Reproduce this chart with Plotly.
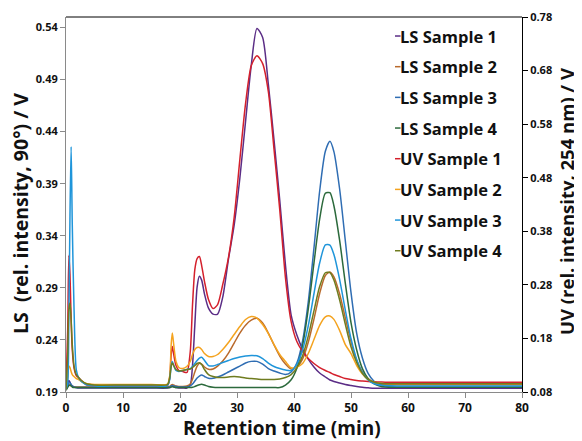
import plotly.graph_objects as go

# Retention time grid (min)
time_min = [0, 0.3, 0.5, 0.7, 0.9, 1.1, 1.4, 1.8, 2.2, 2.7,
            3.5, 5, 10, 15, 17.8, 18.2, 18.45, 18.65, 18.9, 19.3,
            19.8, 20.5, 21.2, 21.8, 22.2, 22.6, 23.0, 23.4, 23.8, 24.3,
            25.0, 25.8, 26.6, 27.5, 28.5, 29.5, 30.5, 31.5, 32.5, 33.5,
            34.5, 35.5, 36.5, 37.5, 38.5, 39.5, 40.5, 41.5, 42.5, 43.5,
            44.5, 45.5, 46.3, 47, 48, 49, 50, 51, 52, 53,
            54, 55, 56, 58, 60, 65, 70, 75, 80]

# LS signals (left axis, V)
ls_sample1 = [0.1919, 0.1977, 0.2010, 0.1996, 0.1967, 0.1958, 0.1948, 0.1943, 0.1938, 0.1938,
              0.1938, 0.1938, 0.1938, 0.1938, 0.1938, 0.1943, 0.1953, 0.1955, 0.1951, 0.1943,
              0.1938, 0.1938, 0.1938, 0.1967, 0.2159, 0.2542, 0.2907, 0.3012, 0.2974, 0.2840,
              0.2705, 0.2648, 0.2648, 0.2811, 0.3175, 0.3501, 0.3952, 0.4498, 0.5035, 0.5390,
              0.5304, 0.4853, 0.4316, 0.3741, 0.3118, 0.2638, 0.2447, 0.2312, 0.2216, 0.2140,
              0.2082, 0.2044, 0.2015, 0.2001, 0.1986, 0.1972, 0.1962, 0.1953, 0.1945, 0.1940,
              0.1935, 0.1935, 0.1935, 0.1935, 0.1935, 0.1935, 0.1935, 0.1935, 0.1935]
ls_sample2 = [0.1919, 0.1948, 0.1967, 0.1967, 0.1958, 0.1953, 0.1948, 0.1948, 0.1948, 0.1948,
              0.1948, 0.1948, 0.1948, 0.1948, 0.1948, 0.1953, 0.1967, 0.1972, 0.1967, 0.1958,
              0.1953, 0.1953, 0.1958, 0.1977, 0.2025, 0.2092, 0.2149, 0.2175, 0.2168, 0.2140,
              0.2118, 0.2121, 0.2149, 0.2197, 0.2274, 0.2370, 0.2466, 0.2542, 0.2590, 0.2607,
              0.2562, 0.2466, 0.2351, 0.2245, 0.2168, 0.2121, 0.2140, 0.2216, 0.2377, 0.2600,
              0.2846, 0.3018, 0.3051, 0.3005, 0.2842, 0.2612, 0.2384, 0.2203, 0.2094, 0.2028,
              0.1991, 0.1977, 0.1972, 0.1970, 0.1970, 0.1970, 0.1970, 0.1970, 0.1970]
ls_sample3 = [0.1919, 0.1958, 0.1986, 0.1989, 0.1972, 0.1958, 0.1948, 0.1943, 0.1943, 0.1943,
              0.1943, 0.1943, 0.1943, 0.1943, 0.1943, 0.1948, 0.1958, 0.1962, 0.1958, 0.1953,
              0.1948, 0.1948, 0.1948, 0.1958, 0.1977, 0.2005, 0.2034, 0.2053, 0.2063, 0.2049,
              0.2031, 0.2031, 0.2044, 0.2063, 0.2092, 0.2121, 0.2149, 0.2178, 0.2194, 0.2194,
              0.2168, 0.2125, 0.2101, 0.2082, 0.2068, 0.2092, 0.2178, 0.2389, 0.2763, 0.3281,
              0.3827, 0.4211, 0.4307, 0.4208, 0.3851, 0.3354, 0.2856, 0.2462, 0.2226, 0.2078,
              0.2005, 0.1972, 0.1958, 0.1948, 0.1948, 0.1948, 0.1948, 0.1948, 0.1948]
ls_sample4 = [0.1919, 0.1948, 0.1962, 0.1967, 0.1958, 0.1948, 0.1943, 0.1943, 0.1943, 0.1943,
              0.1943, 0.1943, 0.1943, 0.1943, 0.1943, 0.1943, 0.1948, 0.1950, 0.1948, 0.1943,
              0.1943, 0.1943, 0.1943, 0.1943, 0.1945, 0.1953, 0.1962, 0.1970, 0.1974, 0.1967,
              0.1953, 0.1946, 0.1943, 0.1943, 0.1943, 0.1943, 0.1943, 0.1943, 0.1943, 0.1943,
              0.1943, 0.1943, 0.1943, 0.1943, 0.1967, 0.2017, 0.2128, 0.2346, 0.2696, 0.3137,
              0.3559, 0.3808, 0.3813, 0.3688, 0.3357, 0.2945, 0.2566, 0.2303, 0.2124, 0.2028,
              0.1980, 0.1958, 0.1948, 0.1945, 0.1945, 0.1945, 0.1945, 0.1945, 0.1945]

# UV signals (right axis, V)
uv_sample1 = [0.0847, 0.1966, 0.3347, 0.2992, 0.2153, 0.1593, 0.1257, 0.1108, 0.1071, 0.1015,
              0.0940, 0.0912, 0.0912, 0.0912, 0.0921, 0.1071, 0.1500, 0.1649, 0.1500, 0.1294,
              0.1201, 0.1182, 0.1164, 0.1556, 0.2432, 0.3085, 0.3291, 0.3328, 0.3160, 0.2862,
              0.2526, 0.2358, 0.2432, 0.2806, 0.3309, 0.4056, 0.5138, 0.6183, 0.6892, 0.7078,
              0.6929, 0.6406, 0.5324, 0.4205, 0.2936, 0.2115, 0.1742, 0.1556, 0.1425, 0.1332,
              0.1257, 0.1201, 0.1164, 0.1126, 0.1089, 0.1052, 0.1033, 0.1015, 0.1005, 0.0996,
              0.0990, 0.0987, 0.0983, 0.0983, 0.0983, 0.0983, 0.0983, 0.0983, 0.0983]
uv_sample2 = [0.0847, 0.1071, 0.1285, 0.1257, 0.1182, 0.1126, 0.1089, 0.1052, 0.1033, 0.0996,
              0.0959, 0.0940, 0.0940, 0.0940, 0.0949, 0.1108, 0.1686, 0.1901, 0.1686, 0.1369,
              0.1257, 0.1238, 0.1276, 0.1369, 0.1500, 0.1593, 0.1630, 0.1630, 0.1593, 0.1518,
              0.1462, 0.1462, 0.1500, 0.1593, 0.1724, 0.1873, 0.2022, 0.2153, 0.2209, 0.2181,
              0.2059, 0.1891, 0.1686, 0.1500, 0.1369, 0.1252, 0.1263, 0.1332, 0.1518, 0.1779,
              0.2044, 0.2203, 0.2218, 0.2156, 0.1951, 0.1686, 0.1518, 0.1294, 0.1136, 0.1033,
              0.0987, 0.0964, 0.0955, 0.0953, 0.0953, 0.0953, 0.0953, 0.0953, 0.0953]
uv_sample3 = [0.0847, 0.0977, 0.2153, 0.4112, 0.5380, 0.3925, 0.2395, 0.1220, 0.1071, 0.0996,
              0.0940, 0.0912, 0.0912, 0.0912, 0.0921, 0.1033, 0.1294, 0.1369, 0.1294, 0.1201,
              0.1182, 0.1201, 0.1220, 0.1238, 0.1276, 0.1332, 0.1388, 0.1434, 0.1449, 0.1388,
              0.1294, 0.1285, 0.1313, 0.1350, 0.1388, 0.1425, 0.1453, 0.1472, 0.1481, 0.1475,
              0.1425, 0.1341, 0.1276, 0.1238, 0.1210, 0.1201, 0.1317, 0.1584, 0.2035, 0.2634,
              0.3207, 0.3546, 0.3543, 0.3365, 0.2903, 0.2330, 0.1798, 0.1406, 0.1164, 0.1026,
              0.0959, 0.0931, 0.0921, 0.0912, 0.0912, 0.0912, 0.0912, 0.0912, 0.0912]
uv_sample4 = [0.0847, 0.1500, 0.2339, 0.2460, 0.2153, 0.1686, 0.1294, 0.1126, 0.1071, 0.1015,
              0.0959, 0.0931, 0.0931, 0.0931, 0.0940, 0.1071, 0.1276, 0.1341, 0.1294, 0.1220,
              0.1192, 0.1201, 0.1220, 0.1229, 0.1257, 0.1294, 0.1332, 0.1345, 0.1313, 0.1220,
              0.1126, 0.1089, 0.1071, 0.1071, 0.1080, 0.1089, 0.1080, 0.1061, 0.1052, 0.1043,
              0.1033, 0.1033, 0.1033, 0.1043, 0.1071, 0.1126, 0.1250, 0.1474, 0.1843, 0.2315,
              0.2768, 0.3026, 0.3030, 0.2891, 0.2522, 0.2067, 0.1643, 0.1350, 0.1151, 0.1037,
              0.0987, 0.0962, 0.0953, 0.0953, 0.0953, 0.0953, 0.0953, 0.0953, 0.0953]

series_names = ["LS Sample 1", "LS Sample 2", "LS Sample 3", "LS Sample 4",
                "UV Sample 1", "UV Sample 2", "UV Sample 3", "UV Sample 4"]
series_values = [ls_sample1, ls_sample2, ls_sample3, ls_sample4,
                 uv_sample1, uv_sample2, uv_sample3, uv_sample4]
series_axis = ["y", "y", "y", "y", "y2", "y2", "y2", "y2"]
series_colors = ["#5b2d86", "#b96a2c", "#2f6db3", "#2c6a3c",
                 "#d4202c", "#f4a31f", "#1f95da", "#6f7c1f"]

ls_ticks = [0.19, 0.24, 0.29, 0.34, 0.39, 0.44, 0.49, 0.54]
uv_ticks = [0.08, 0.18, 0.28, 0.38, 0.48, 0.58, 0.68, 0.78]
x_ticks = [0, 10, 20, 30, 40, 50, 60, 70, 80]

FONT = "Open Sans"

fig = go.Figure()
for name, vals, ax, col in zip(series_names, series_values, series_axis, series_colors):
    fig.add_trace(go.Scatter(
        x=time_min, y=vals, name=name, yaxis=ax, mode="lines",
        line=dict(color=col, width=1.5, shape="spline", smoothing=0.7),
        showlegend=False))

# custom legend (short line + bold label), top right inside plot
leg_x_line0, leg_x_line1, leg_x_text = 0.7215, 0.7336, 0.7270
leg_y0, leg_dy = 0.9493, 0.0818
annotations = []
shapes = []
for i, (name, col) in enumerate(zip(series_names, series_colors)):
    yy = leg_y0 - i * leg_dy
    shapes.append(dict(type="line", xref="paper", yref="paper",
                       x0=leg_x_line0, x1=leg_x_line1, y0=yy, y1=yy,
                       line=dict(color=col, width=1.5)))
    annotations.append(dict(text="<b>" + name + "</b>", xref="paper", yref="paper",
                            x=leg_x_text, y=yy, xanchor="left", yanchor="middle",
                            showarrow=False, font=dict(family=FONT, size=16.5, color="#111")))

# axis titles
annotations.append(dict(text="<b>LS&nbsp; (rel. intensity, 90°) / V</b>", xref="paper", yref="paper",
                        x=-0.1009, y=0.4773, textangle=-90, showarrow=False,
                        xanchor="center", yanchor="middle",
                        font=dict(family=FONT, size=19.5, color="#111")))
annotations.append(dict(text="<b>UV (rel. intensity, 254 nm) / V</b>", xref="paper", yref="paper",
                        x=1.0965, y=0.5093, textangle=-90, showarrow=False,
                        xanchor="center", yanchor="middle",
                        font=dict(family=FONT, size=18.5, color="#111")))
annotations.append(dict(text="<b>Retention time (min)</b>", xref="paper", yref="paper",
                        x=0.4726, y=-0.0947, showarrow=False, borderpad=0,
                        xanchor="center", yanchor="middle",
                        font=dict(family=FONT, size=19, color="#111")))

# top frame line
shapes.append(dict(type="line", xref="paper", yref="paper", x0=0, x1=1, y0=1, y1=1,
                   line=dict(color="#000", width=1)))

# the page body adds an 8 px offset, so the figure is 8 px smaller on each axis
fig.update_layout(
    width=574, height=433,
    margin=dict(l=58, r=60, t=9, b=49, autoexpand=False),
    paper_bgcolor="white", plot_bgcolor="white",
    font=dict(family=FONT, color="#111"),
    showlegend=False,
    xaxis=dict(range=[0, 80], tickvals=x_ticks, showgrid=False, zeroline=False,
               automargin=False,
               showline=True, linecolor="#8a8a8a", linewidth=1,
               ticks="outside", ticklen=5, tickcolor="#8a8a8a",
               tickfont=dict(family=FONT, size=12, color="#111", weight="bold")),
    yaxis=dict(range=[0.19, 0.55], tickvals=ls_ticks, tickformat=".2f",
               showgrid=False, zeroline=False, automargin=False,
               showline=True, linecolor="#8a8a8a", linewidth=1,
               ticks="outside", ticklen=5, tickcolor="#8a8a8a",
               tickfont=dict(family=FONT, size=11, color="#111", weight="bold")),
    yaxis2=dict(range=[0.08, 0.78], tickvals=uv_ticks, tickformat=".2f",
                overlaying="y", side="right", showgrid=False, zeroline=False,
                automargin=False,
                showline=True, linecolor="#000", linewidth=1,
                ticks="outside", ticklen=5, tickcolor="#000",
                tickfont=dict(family=FONT, size=11, color="#111", weight="bold")),
    annotations=annotations,
    shapes=shapes,
)

fig.write_html("out.html")
